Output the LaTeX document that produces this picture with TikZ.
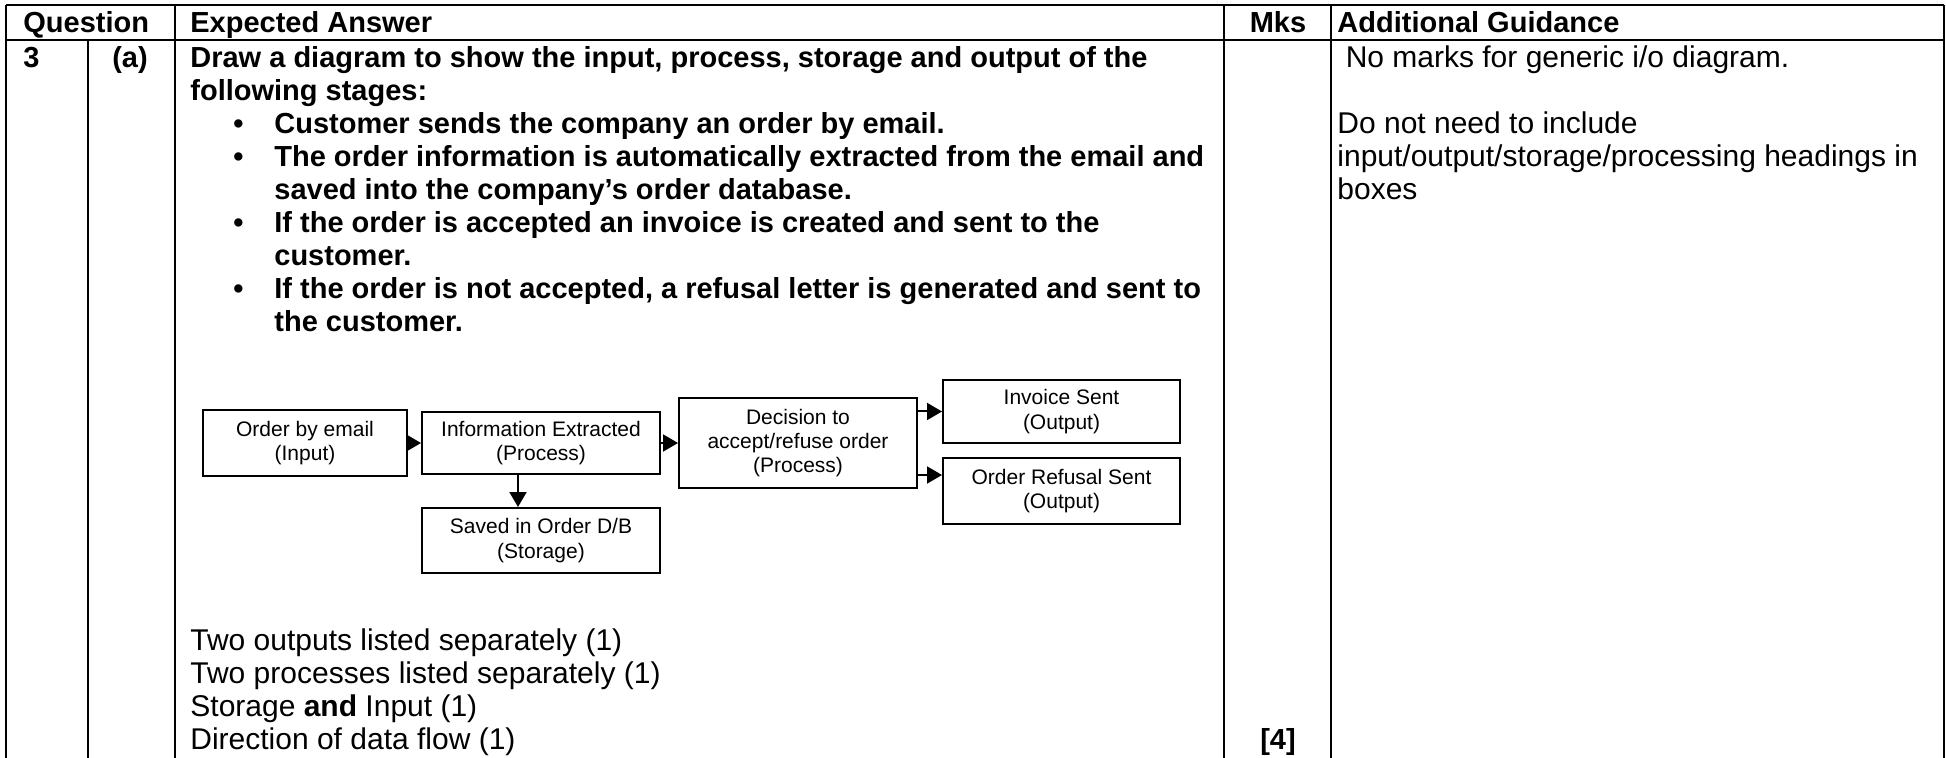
\documentclass[tikz,border=0pt]{standalone}
\usepackage{fontspec}
\setmainfont{Liberation Sans}
\usetikzlibrary{arrows.meta}
\usetikzlibrary{positioning}

\tikzset{
  rule/.style={line width=1.2pt},
  hbold/.style={font=\fontsize{14.5}{16.7}\selectfont\bfseries, anchor=base west, inner sep=0pt},
  hplain/.style={font=\fontsize{15}{17.2}\selectfont, anchor=base west, inner sep=0pt},
  stagebox/.style={draw, line width=1pt, align=center, inner sep=0pt,
    font=\fontsize{10.5}{12.2}\selectfont},
  flow/.style={line width=1pt, -{Triangle[length=7.5pt,width=8.5pt]}},
}

\begin{document}
\begin{tikzpicture}[x=0.5pt,y=-0.5pt]
\useasboundingbox (0,0) rectangle (1946,758);

% table rules
\draw[rule] (6,5) -- (1944,5);
\draw[rule] (6,40) -- (1944,40);
\foreach \xc in {6,175,1224,1331,1944}
  \draw[rule] (\xc,5) -- (\xc,758);
\draw[rule] (88,40) -- (88,758);

% header row
\node[hbold] (hques) at (23,33) {Question};
\node[hbold] (hans) at (190,33) {Expected Answer};
\node[hbold, anchor=base] (hmks) at (1278,33) {Mks};
\node[hbold] (hguide) at (1337,33) {Additional Guidance};

% question number
\node[hbold] (qnum) at (23,68) {3};
\node[hbold, anchor=base] (qpart) at (130,68) {(a)};

% question text
\node[hbold] (qline1) at (190,68) {Draw a diagram to show the input, process, storage and output of the};
\node[hbold] (qline2) at (190,101) {following stages:};
\foreach \yb in {134,167,233,299}
  \node[hbold] at (233,\yb) {\textbullet};
\node[hbold] (qline3) at (274,134) {Customer sends the company an order by email.};
\node[hbold] (qline4) at (274,167) {The order information is automatically extracted from the email and};
\node[hbold] (qline5) at (274,200) {saved into the company’s order database.};
\node[hbold] (qline6) at (274,233) {If the order is accepted an invoice is created and sent to the};
\node[hbold] (qline7) at (274,266) {customer.};
\node[hbold] (qline8) at (274,299) {If the order is not accepted, a refusal letter is generated and sent to};
\node[hbold] (qline9) at (274,332) {the customer.};

% diagram
\node[stagebox, minimum width=102pt, minimum height=32.5pt] (order) at (305,443) {Order by email\\(Input)};
\node[stagebox, minimum width=119pt, minimum height=31pt] (extract) at (541,443) {Information Extracted\\(Process)};
\node[stagebox, minimum width=119pt, minimum height=32.5pt] (saved) at (541,540.5) {Saved in Order D/B\\(Storage)};
\node[stagebox, minimum width=119pt, minimum height=44.5pt] (decide) at (798,443) {Decision to\\accept/refuse order\\(Process)};
\node[stagebox, minimum width=118.5pt, minimum height=31.5pt] (invoice) at (1061.5,411.5) {Invoice Sent\\(Output)};
\node[stagebox, minimum width=118.5pt, minimum height=33pt] (refusal) at (1061.5,491) {Order Refusal Sent\\(Output)};

\draw[flow] (order.east) -- (extract.west);
\draw[flow] (extract.east) -- (decide.west);
\draw[flow] ([xshift=-11.5pt]extract.south) -- ([xshift=-11.5pt]extract.south |- saved.north);
\draw[flow] (decide.east |- invoice) -- (invoice.west);
\draw[flow] ([yshift=-16pt]decide.east) -- ([yshift=-16pt]decide.east -| refusal.west);

% marking points
\node[hplain] (mark1) at (190,650) {Two outputs listed separately (1)};
\node[hplain] (mark2) at (190,683) {Two processes listed separately (1)};
\node[hplain] (mark3) at (190,716) {Storage \textbf{and} Input (1)};
\node[hplain] (mark4) at (190,749) {Direction of data flow (1)};
\node[hbold, anchor=base] (total) at (1278,749) {[4]};

% guidance
\node[hplain] (guide1) at (1337,68) {\ No marks for generic i/o diagram.};
\node[hplain] (guide2) at (1337,134) {Do not need to include};
\node[hplain] (guide3) at (1337,167) {input/output/storage/processing headings in};
\node[hplain] (guide4) at (1337,200) {boxes};
\end{tikzpicture}
\end{document}
